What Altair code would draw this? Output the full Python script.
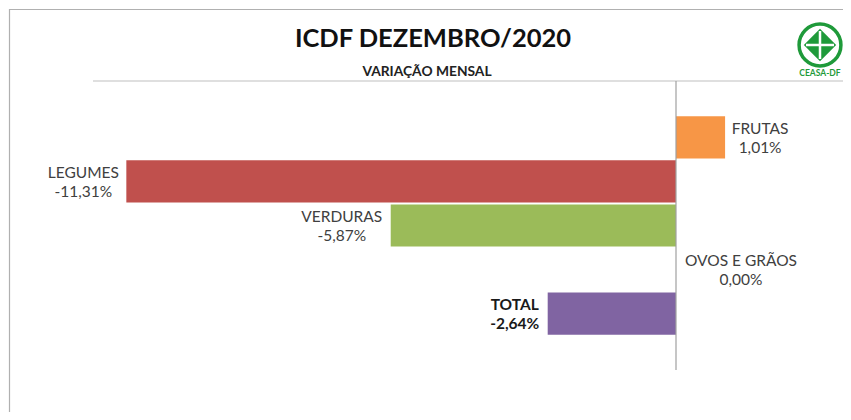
import altair as alt
import pandas as pd

# ---- data ----
CATEGORIES = ["FRUTAS", "LEGUMES", "VERDURAS", "OVOS E GRÃOS", "TOTAL"]
VALUES = [1.01, -11.31, -5.87, 0.00, -2.64]
COLORS = ["#F79646", "#C0504D", "#9BBB59", "#4F81BD", "#8064A2"]

TITLE = "ICDF DEZEMBRO/2020"
SUBTITLE = "VARIAÇÃO MENSAL"
LOGO_TEXT = "CEASA-DF"

# ---- layout / style ----
W, H = 835, 404
PX = 48.6            # pixels per percentage point
ZERO = 668           # view x of zero
LABEL_DX = {"FRUTAS": 35, "LEGUMES": -43, "VERDURAS": -49, "OVOS E GRÃOS": 65, "TOTAL": -33}
FONT = "Lato"
LH = 19

df = pd.DataFrame({"cat": CATEGORIES, "value": VALUES, "color": COLORS})
df["label"] = [f"{c}\n" + f"{v:.2f}".replace(".", ",") + "%" for c, v in zip(CATEGORIES, VALUES)]
df["lab_x"] = [v + LABEL_DX[c] / PX for c, v in zip(CATEGORIES, VALUES)]

xs = alt.Scale(domain=[-ZERO / PX, (W - ZERO) / PX], nice=False, zero=False)
ys = alt.Scale(domain=CATEGORIES, range=[73, 362], paddingInner=0.045, paddingOuter=0.8)

base = alt.Chart(df)

bars = base.mark_bar().encode(
    x=alt.X("value:Q", scale=xs, axis=None),
    x2=alt.datum(0),
    y=alt.Y("cat:N", scale=ys, axis=None, sort=CATEGORIES),
    color=alt.Color("color:N", scale=None),
)

labels = base.mark_text(
    align="center", baseline="middle", lineBreak="\n", lineHeight=LH,
    font=FONT, fontSize=15.5, dy=-LH / 2 + 1, color="#404040",
).encode(
    x=alt.X("lab_x:Q", scale=xs),
    y=alt.Y("cat:N", scale=ys, sort=CATEGORIES),
    text="label:N",
).transform_filter(alt.datum.cat != "TOTAL")

labels_total = base.mark_text(
    align="center", baseline="middle", lineBreak="\n", lineHeight=LH,
    font=FONT, fontSize=15.5, dy=-LH / 2 + 1, color="#1a1a1a", fontWeight="bold",
).encode(
    x=alt.X("lab_x:Q", scale=xs),
    y=alt.Y("cat:N", scale=ys, sort=CATEGORIES),
    text="label:N",
).transform_filter(alt.datum.cat == "TOTAL")

one = alt.Data(values=[{}])

zero_line = alt.Chart(one).mark_rule(color="#a0a0a0", strokeWidth=1.2).encode(
    x=alt.datum(0, scale=xs), y=alt.value(73), y2=alt.value(362)
)

title_line = alt.Chart(one).mark_rule(color="#c0c0c0", strokeWidth=1.2).encode(
    x=alt.value(85), x2=alt.value(W), y=alt.value(73)
)

frame = alt.Chart(one).mark_rect(fill=None, stroke="#b0b0b0", strokeWidth=1.2).encode(
    x=alt.value(1.5), x2=alt.value(W + 20), y=alt.value(1.5), y2=alt.value(H + 20)
)

title = alt.Chart(one).mark_text(
    text=TITLE, font=FONT, fontSize=25.5, fontWeight="bold", color="#111111",
    align="center", baseline="alphabetic",
).encode(x=alt.value(425), y=alt.value(39))

subtitle = alt.Chart(one).mark_text(
    text=SUBTITLE, font=FONT, fontSize=13.8, fontWeight="bold", color="#222222",
    align="center", baseline="alphabetic",
).encode(x=alt.value(419), y=alt.value(68))

# logo
green = "#1f9a3a"
LX, LY = 812, 37
logo_ring = alt.Chart(one).mark_point(
    shape="circle", size=1750, filled=False, stroke=green, strokeWidth=3.5, opacity=1
).encode(x=alt.value(LX), y=alt.value(LY))
logo_diamond = alt.Chart(one).mark_point(
    shape="diamond", size=1050, filled=True, fill=green, opacity=1
).encode(x=alt.value(LX), y=alt.value(LY))
logo_h = alt.Chart(one).mark_rule(color="white", strokeWidth=2.5).encode(
    x=alt.value(LX - 14), x2=alt.value(LX + 14), y=alt.value(LY)
)
logo_v = alt.Chart(one).mark_rule(color="white", strokeWidth=2.5).encode(
    y=alt.value(LY - 14), y2=alt.value(LY + 14), x=alt.value(LX)
)
logo_text = alt.Chart(one).mark_text(
    text=LOGO_TEXT, font=FONT, fontSize=8.5, fontWeight="bold", color=green,
    align="center", baseline="middle",
).encode(x=alt.value(LX), y=alt.value(65))

chart = alt.layer(
    frame, title_line, bars, zero_line, labels, labels_total, title, subtitle,
    logo_ring, logo_diamond, logo_h, logo_v, logo_text,
).properties(
    width=W, height=H, padding=0,
    autosize=alt.AutoSizeParams(type="none"),
    background="white",
).configure_view(stroke=None)

chart.save("out.html", embed_options={"renderer": "svg", "actions": False})
